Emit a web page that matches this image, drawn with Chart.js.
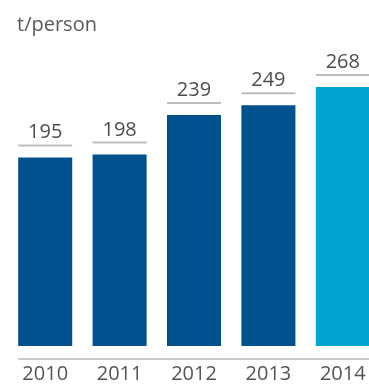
<!DOCTYPE html>
<html>
<head>
<meta charset="utf-8">
<script src="https://cdn.jsdelivr.net/npm/chart.js@4"></script>
<style>
  html, body { margin: 0; padding: 0; background: #fff; overflow: hidden; }
  #wrap { position: relative; width: 380px; height: 389px; }
  #unit { position: absolute; left: 17px; top: 14px; font: 20px/20px "Open Sans", sans-serif; color: #5a5a5a; }
</style>
</head>
<body>
<div id="wrap">
  <div id="unit">t/person</div>
  <canvas id="perPersonChart" width="380" height="389"></canvas>
</div>
<script>
const years = ['2010', '2011', '2012', '2013', '2014'];
const tonsPerPerson = [195, 198, 239, 249, 268];

document.addEventListener('DOMContentLoaded', () => {
    const dark = '#01518f';
    const light = '#00a5cf';

    // value above each bar with a thin grey rule underneath
    const valueLabels = {
        id: 'valueLabels',
        afterDatasetsDraw(chart) {
            const ctx = chart.ctx;
            const meta = chart.getDatasetMeta(0);
            ctx.save();
            meta.data.forEach((bar, i) => {
                const half = bar.width / 2;
                const ruleY = bar.y - 12;
                ctx.strokeStyle = '#bdbdbd';
                ctx.lineWidth = 2;
                ctx.beginPath();
                ctx.moveTo(bar.x - half, ruleY);
                ctx.lineTo(bar.x + half, ruleY);
                ctx.stroke();
                ctx.fillStyle = '#4d4d4d';
                ctx.font = '20px "Open Sans", sans-serif';
                ctx.textAlign = 'center';
                ctx.textBaseline = 'alphabetic';
                ctx.fillText(String(tonsPerPerson[i]), bar.x, ruleY - 7);
            });
            // base line starts at the first bar's left edge
            const first = meta.data[0];
            ctx.strokeStyle = '#c8c8c8';
            ctx.lineWidth = 2;
            ctx.beginPath();
            ctx.moveTo(first.x - first.width / 2, chart.chartArea.bottom);
            ctx.lineTo(chart.width, chart.chartArea.bottom);
            ctx.stroke();
            ctx.restore();
        }
    };

    const ctx = document.getElementById('perPersonChart').getContext('2d');
    new Chart(ctx, {
        type: 'bar',
        data: {
            labels: years,
            datasets: [{
                data: tonsPerPerson,
                backgroundColor: years.map((y, i) => i === years.length - 1 ? light : dark),
                barPercentage: 0.726,
                categoryPercentage: 1
            }]
        },
        options: {
            responsive: false,
            animation: false,
            layout: { padding: { left: 8, top: 56, right: 0, bottom: 0 } },
            plugins: { legend: { display: false }, tooltip: { enabled: false } },
            scales: {
                x: {
                    grid: { display: false, drawTicks: false, tickLength: 0 },
                    border: { display: false },
                    ticks: {
                        color: '#555',
                        font: { family: 'Open Sans', size: 20, lineHeight: '18px' },
                        padding: 6
                    }
                },
                y: { display: false, min: -13.5, max: 300 }
            }
        },
        plugins: [valueLabels]
    });
});
</script>
</body>
</html>
